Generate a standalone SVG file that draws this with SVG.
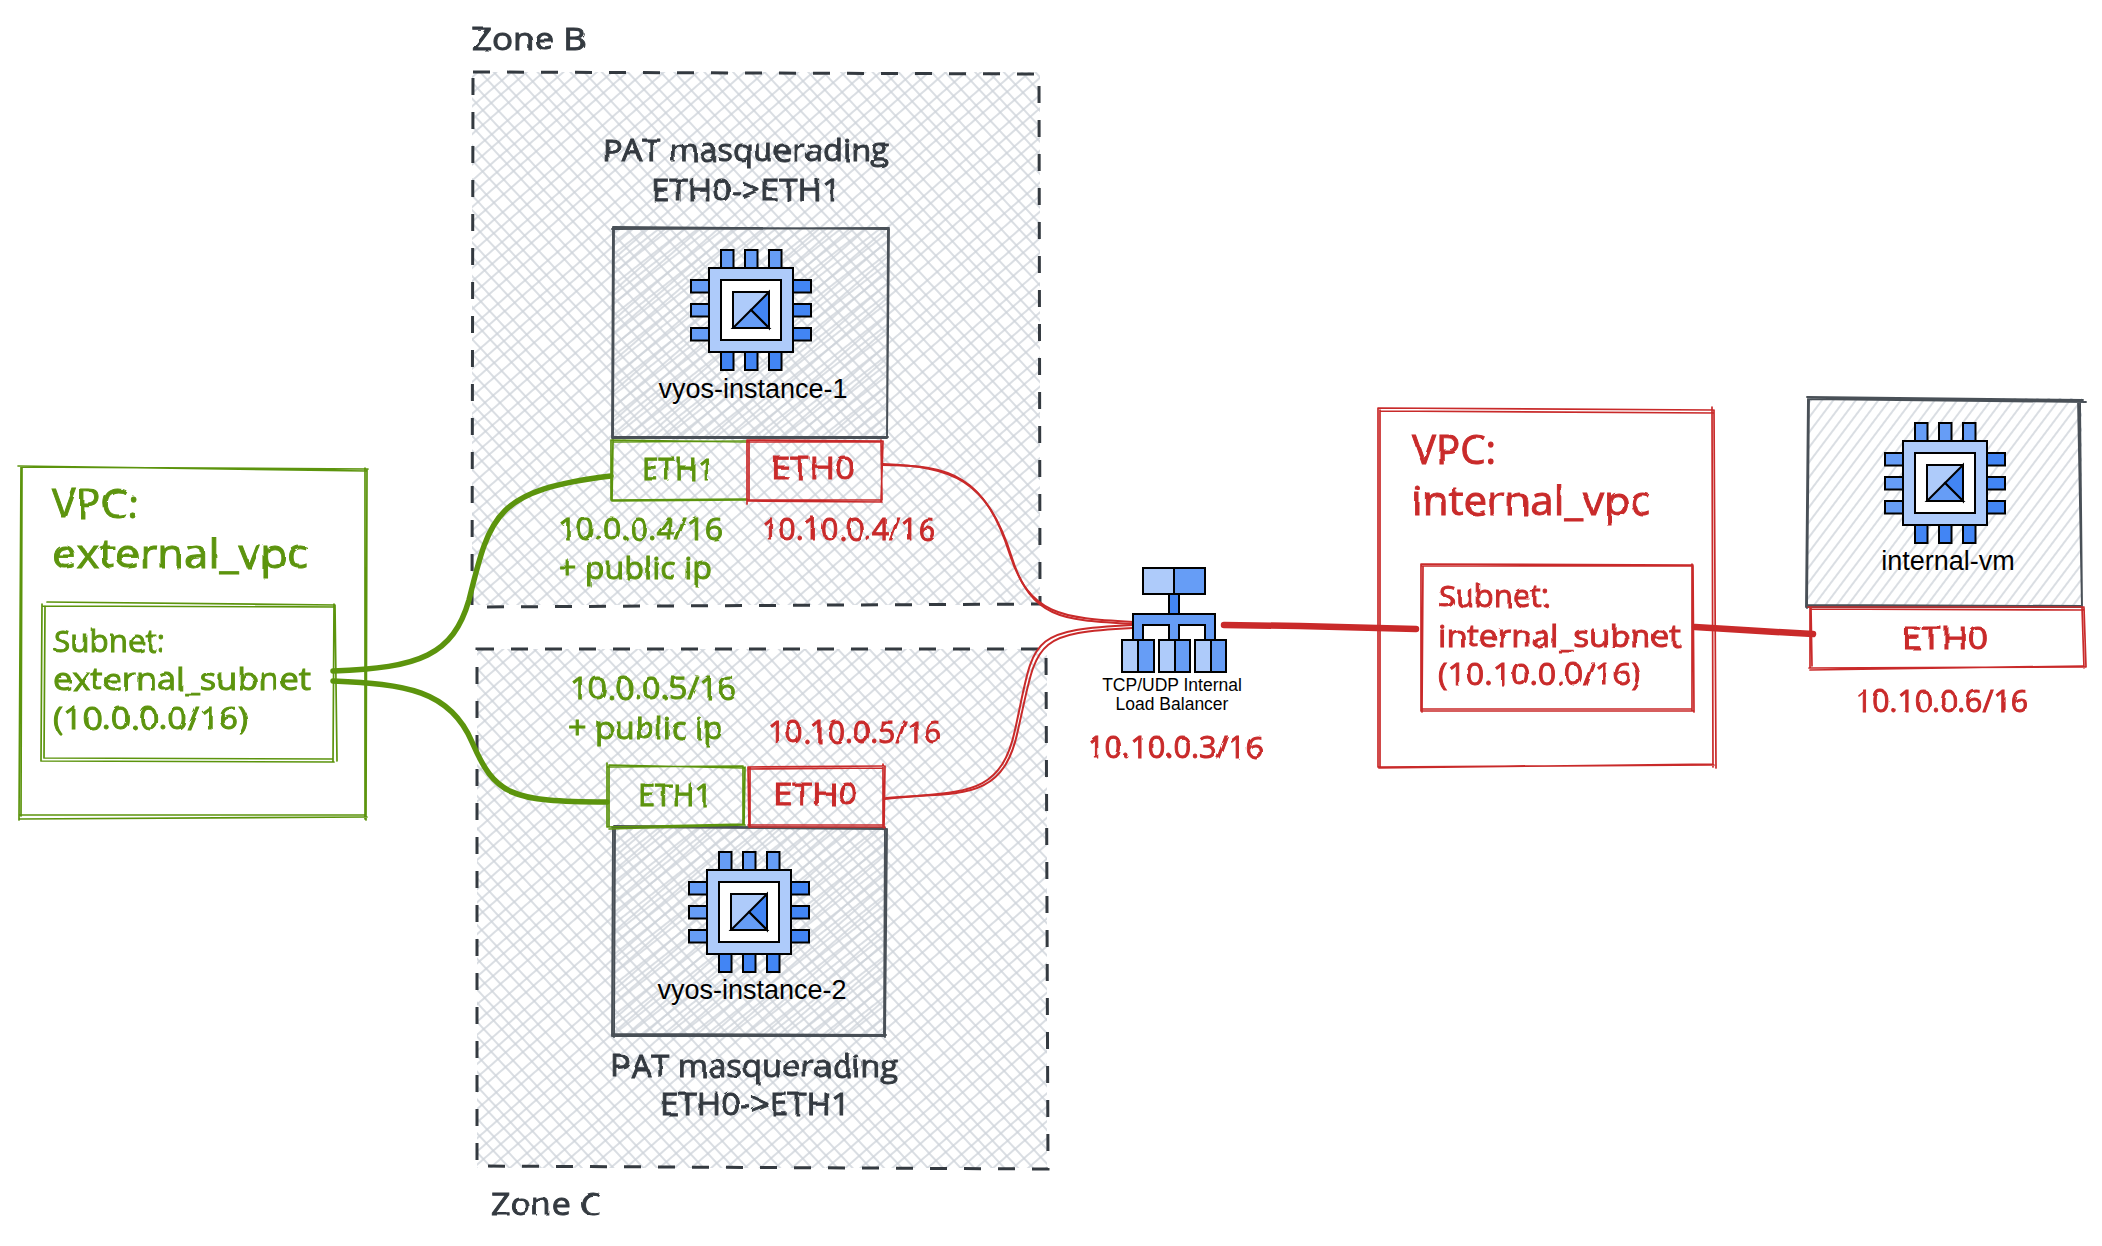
<svg xmlns="http://www.w3.org/2000/svg" width="2102" height="1246" viewBox="0 0 2102 1246">
<style>
text{font-family:"Open Sans","Liberation Sans",sans-serif}
.h{filter:url(#wob);stroke-width:.9px}
.s30{font-size:31px}.s40{font-size:40px}
.g{fill:#5c940d;stroke:#5c940d}.r{fill:#c92a2a;stroke:#c92a2a}.d{fill:#343a40;stroke:#343a40}
.lab{font-family:"Liberation Sans",Arial,sans-serif;font-size:27px;fill:#000;text-anchor:middle}
.lb{font-family:"Liberation Sans",Arial,sans-serif;font-size:17.5px;fill:#000;text-anchor:middle}
.sg,.sr,.sk{fill:none;stroke-linecap:round;stroke-linejoin:round}
.sg{stroke:#5c940d;stroke-width:1.7}.sr{stroke:#c92a2a;stroke-width:1.7}.sk{stroke:#495057;stroke-width:1.9}
.dash{fill:none;stroke:#343a40;stroke-width:3;stroke-dasharray:17 17}
.ic{stroke:#000;stroke-width:2}
.a{fill:#aecbfa}.b{fill:#669df6}.c{fill:#4285f4}.w{fill:#fff}
.cg{fill:none;stroke:#5c940d;stroke-width:5.5;stroke-linecap:round}
.cr{fill:none;stroke:#c92a2a;stroke-width:2;stroke-linecap:round}
.ct{fill:none;stroke:#c92a2a;stroke-width:6.5;stroke-linecap:round}
</style>
<defs>
<filter id="wob" x="-5%" y="-30%" width="110%" height="160%"><feTurbulence type="fractalNoise" baseFrequency="0.045" numOctaves="2" seed="4"/><feDisplacementMap in="SourceGraphic" scale="4"/></filter>
<pattern id="h1" width="66" height="66" patternUnits="userSpaceOnUse" patternTransform="rotate(-41)"><path d="M0 4H66M0 15H66M0 28H66M0 38H66M0 50H66M0 60H66" stroke="#ced4da" stroke-width="1.7"/></pattern>
<pattern id="h2" width="66" height="66" patternUnits="userSpaceOnUse" patternTransform="rotate(47)"><path d="M0 5H66M0 18H66M0 28H66M0 41H66M0 52H66M0 62H66" stroke="#ced4da" stroke-width="1.7"/></pattern>
<pattern id="h3" width="24" height="24" patternUnits="userSpaceOnUse" patternTransform="rotate(-38)"><path d="M0 2H24M0 10H24M0 17H24" stroke="#ced4da" stroke-width="1.5"/></pattern>
<pattern id="h4" width="27" height="27" patternUnits="userSpaceOnUse" patternTransform="rotate(-53)"><path d="M0 4H27M0 13H27M0 22H27" stroke="#ced4da" stroke-width="1.6"/></pattern>
<g id="chip">
<g class="ic">
<rect class="b" x="-30" y="-60" width="12.5" height="19"/><rect class="b" x="-6" y="-60" width="12.5" height="19"/><rect class="b" x="18" y="-60" width="12.5" height="19"/>
<rect class="c" x="-30" y="41" width="12.5" height="19"/><rect class="c" x="-6" y="41" width="12.5" height="19"/><rect class="c" x="18" y="41" width="12.5" height="19"/>
<rect class="b" x="-60" y="-30" width="19" height="12.5"/><rect class="b" x="-60" y="-6" width="19" height="12.5"/><rect class="b" x="-60" y="18" width="19" height="12.5"/>
<rect class="c" x="41" y="-30" width="19" height="12.5"/><rect class="c" x="41" y="-6" width="19" height="12.5"/><rect class="c" x="41" y="18" width="19" height="12.5"/>
<rect class="a" x="-42" y="-42" width="84" height="84"/>
<rect class="w" x="-30" y="-30" width="60" height="60"/>
<rect class="a" x="-18" y="-18" width="36" height="36"/>
<path class="c" d="M18-18V18L0 0Z"/><path class="b" d="M-18 18H18L0 0Z"/>
</g>
</g>
</defs>

<g id="zone-b">
<rect x="472" y="72" width="568" height="533" fill="url(#h1)"/><rect x="472" y="72" width="568" height="533" fill="url(#h2)"/>
<path class="dash" d="M473 72L1039 74L1040 604L472 607Z"/>
<text class="h d s30" x="472" y="50" textLength="114" lengthAdjust="spacingAndGlyphs">Zone B</text>
<text class="h d s30" x="602" y="161" textLength="287" lengthAdjust="spacingAndGlyphs">PAT masquerading</text>
<text class="h d s30" x="651" y="201" textLength="190" lengthAdjust="spacingAndGlyphs">ETH0-&gt;ETH1</text>
</g>
<g id="zone-c">
<rect x="477" y="649" width="570" height="519" fill="url(#h1)"/><rect x="477" y="649" width="570" height="519" fill="url(#h2)"/>
<path class="dash" d="M477 649L1046 649L1048 1169L477 1166Z"/>
<text class="h d s30" x="491" y="1215" textLength="110" lengthAdjust="spacingAndGlyphs">Zone C</text>
<text class="h d s30" x="611" y="1077" textLength="287" lengthAdjust="spacingAndGlyphs">PAT masquerading</text>
<text class="h d s30" x="660" y="1115" textLength="190" lengthAdjust="spacingAndGlyphs">ETH0-&gt;ETH1</text>
</g>

<g id="vyos-instance-1">
<rect x="613" y="227" width="275" height="211" fill="url(#h3)"/>
<path class="sk" d="M613 227L888 229M612 229L889 228M888 228L887 438M889 229L887 438M613 438L887 438M612 437L888 437M613 227L612 438M614 228L613 439"/>
<use href="#chip" x="751" y="310"/>
<text class="lab" x="753" y="398">vyos-instance-1</text>
</g>
<g id="vyos-instance-2">
<rect x="613" y="827" width="273" height="209" fill="url(#h3)"/>
<path class="sk" d="M612 827L886 829M614 826L885 828M885 828L884 1036M887 829L885 1037M613 1036L885 1036M612 1034L886 1035M613 827L612 1036M615 828L614 1037"/>
<use href="#chip" x="749" y="912"/>
<text class="lab" x="752" y="999">vyos-instance-2</text>
</g>
<g id="internal-vm">
<rect x="1808" y="398" width="274" height="209" fill="#fff"/><rect x="1808" y="398" width="274" height="209" fill="url(#h4)"/>
<path class="sk" d="M1807 397L2083 400M1808 399L2086 402M2078 400L2082 607M2080 402L2082 606M1808 607L2081 607M1807 605L2082 606M1808 398L1806 607M1809 399L1807 608"/>
<use href="#chip" x="1945" y="483"/>
<text class="lab" x="1948" y="570">internal-vm</text>
</g>

<g id="connectors">
<path class="cg" d="M333 671C420 668 453 655 469 600C490 515 495 490 611 476"/>
<path class="cg" d="M333 681C405 684 450 690 472 742C495 795 510 802 607 802"/>
<path class="cr" d="M882 465C950 465 985 475 1010 555C1030 615 1060 618 1133 622"/>
<path class="cr" d="M883 464C952 467 987 478 1012 558C1032 620 1064 620 1133 624"/>
<path class="cr" d="M885 799C960 790 1000 800 1015 730C1035 640 1025 630 1133 625"/>
<path class="cr" d="M886 798C960 792 1003 803 1018 730C1038 643 1030 633 1133 628"/>
<path class="ct" d="M1224 625L1300 626L1416 629"/>
<path class="ct" d="M1695 627L1760 631L1813 634"/>
</g>

<g id="tcp-udp-ilb">
<g class="ic">
<path class="c" d="M1169 594h10v20h-10z"/>
<path class="b" d="M1133 614H1215V641H1205V625H1179V641H1169V625H1143V641H1133Z"/>
<rect class="a" x="1143" y="568" width="31" height="26"/><rect class="b" x="1174" y="568" width="31" height="26"/>
<rect class="a" x="1122" y="640" width="16" height="32"/><rect class="b" x="1138" y="640" width="16" height="32"/>
<rect class="a" x="1159" y="640" width="16" height="32"/><rect class="b" x="1175" y="640" width="15" height="32"/>
<rect class="a" x="1195" y="640" width="16" height="32"/><rect class="b" x="1211" y="640" width="15" height="32"/>
</g>
<text class="lb" x="1172" y="691">TCP/UDP Internal</text>
<text class="lb" x="1172" y="710">Load Balancer</text>
<text class="h r s30" x="1087" y="758" textLength="176" lengthAdjust="spacingAndGlyphs">10.10.0.3/16</text>
</g>

<g id="vpc-external">
<path class="sg" d="M18 466L366 471M22 467L368 469M365 468L365 819M367 470L366 820M20 819L367 817M19 815L364 815M21 467L19 820M22 468L21 816"/>
<text class="h g s40" x="52" y="518" textLength="86" lengthAdjust="spacingAndGlyphs">VPC:</text>
<text class="h g s40" x="52" y="568" textLength="256" lengthAdjust="spacingAndGlyphs">external_vpc</text>
</g>
<g id="subnet-external">
<path class="sg" d="M47 602L335 605M42 606L335 607M334 604L333 762M335 605L337 761M41 761L334 762M44 758L332 759M42 604L41 761M45 606L44 758"/>
<text class="h g s30" x="53" y="652" textLength="112" lengthAdjust="spacingAndGlyphs">Subnet:</text>
<text class="h g s30" x="53" y="690" textLength="258" lengthAdjust="spacingAndGlyphs">external_subnet</text>
<text class="h g s30" x="53" y="729" textLength="195" lengthAdjust="spacingAndGlyphs">(10.0.0.0/16)</text>
</g>
<g id="eth1-a">
<path class="sg" d="M611 440L747 442M613 442L748 441M611 440L611 500M613 441L612 501M611 500L747 499M612 501L748 500"/>
<text class="h g s30" x="642" y="480" textLength="72" lengthAdjust="spacingAndGlyphs">ETH1</text>
<text class="h g s30" x="558" y="540" textLength="165" lengthAdjust="spacingAndGlyphs">10.0.0.4/16</text>
<text class="h g s30" x="558" y="579" textLength="154" lengthAdjust="spacingAndGlyphs">+ public ip</text>
</g>
<g id="eth0-a">
<path class="sr" d="M747 440L882 441M748 442L881 442M747 440L747 504M749 441L749 501M881 440L882 500M883 441L881 502M747 500L882 500M748 501L882 502"/>
<text class="h r s30" x="771" y="479" textLength="84" lengthAdjust="spacingAndGlyphs">ETH0</text>
<text class="h r s30" x="761" y="540" textLength="174" lengthAdjust="spacingAndGlyphs">10.10.0.4/16</text>
</g>
<g id="eth1-b">
<path class="sg" d="M607 767L743 766M609 765L744 768M607 763L607 827M609 766L609 826M743 766L743 825M745 767L744 826M607 827L744 824M609 829L745 825"/>
<text class="h g s30" x="638" y="806" textLength="74" lengthAdjust="spacingAndGlyphs">ETH1</text>
<text class="h g s30" x="570" y="699" textLength="166" lengthAdjust="spacingAndGlyphs">10.0.0.5/16</text>
<text class="h g s30" x="568" y="739" textLength="155" lengthAdjust="spacingAndGlyphs">+ public ip</text>
</g>
<g id="eth0-b">
<path class="sr" d="M748 767L884 766M749 769L883 768M748 767L749 826M750 768L750 827M883 764L883 826M885 766L884 828M748 825L884 825M749 827L885 827"/>
<text class="h r s30" x="773" y="805" textLength="85" lengthAdjust="spacingAndGlyphs">ETH0</text>
<text class="h r s30" x="768" y="743" textLength="173" lengthAdjust="spacingAndGlyphs">10.10.0.5/16</text>
</g>
<g id="vpc-internal">
<path class="sr" d="M1378 408L1713 410M1380 411L1714 413M1712 407L1713 767M1714 410L1716 768M1378 767L1714 765M1379 768L1713 764M1378 408L1378 767M1380 410L1380 766"/>
<text class="h r s40" x="1412" y="464" textLength="84" lengthAdjust="spacingAndGlyphs">VPC:</text>
<text class="h r s40" x="1412" y="515" textLength="238" lengthAdjust="spacingAndGlyphs">internal_vpc</text>
</g>
<g id="subnet-internal">
<path class="sr" d="M1421 564L1693 565M1422 566L1692 566M1692 564L1692 711M1693 566L1694 712M1421 711L1693 711M1422 709L1692 709M1421 564L1421 711M1423 566L1422 712"/>
<text class="h r s30" x="1438" y="607" textLength="112" lengthAdjust="spacingAndGlyphs">Subnet:</text>
<text class="h r s30" x="1438" y="647" textLength="243" lengthAdjust="spacingAndGlyphs">internal_subnet</text>
<text class="h r s30" x="1438" y="685" textLength="203" lengthAdjust="spacingAndGlyphs">(10.10.0.0/16)</text>
</g>
<g id="eth0-c">
<path class="sr" d="M1808 607L2084 607M1810 609L2083 610M1810 607L1810 668M1811 608L1812 666M2082 607L2084 668M2084 608L2086 667M1809 668L2085 667M1810 670L2083 666"/>
<text class="h r s30" x="1902" y="649" textLength="86" lengthAdjust="spacingAndGlyphs">ETH0</text>
<text class="h r s30" x="1855" y="712" textLength="173" lengthAdjust="spacingAndGlyphs">10.10.0.6/16</text>
</g>
</svg>
